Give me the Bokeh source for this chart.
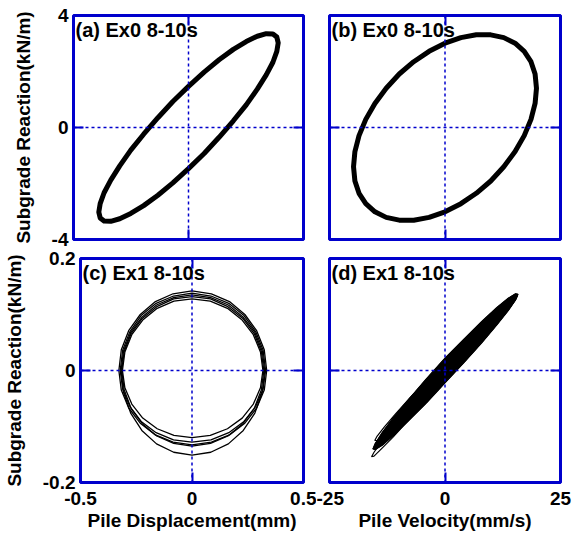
from bokeh.plotting import figure
from bokeh.layouts import column, row
from bokeh.models import Span, Label, LinearAxis, FixedTicker, Range1d
from bokeh.embed import file_html
from bokeh.resources import INLINE

FONT = "Liberation Sans"
BLUE = "#0000CC"

# ---- axes: ranges, ticks, tick labels ----
disp_range = (-0.5, 0.5)
vel_range = (-25, 25)
ex0_range = (-4, 4)
ex1_range = (-0.2, 0.2)
disp_ticks = [-0.5, 0, 0.5]
disp_tick_labels = ["-0.5", "0", "0.5"]
vel_ticks = [-25, 0, 25]
vel_tick_labels = ["-25", "0", "25"]
ex0_ticks = [-4, 0, 4]
ex0_tick_labels = ["-4", "0", "4"]
ex1_ticks = [-0.2, 0, 0.2]
ex1_tick_labels = ["-0.2", "0", "0.2"]

panel_titles = ["(a) Ex0 8-10s", "(b) Ex0 8-10s", "(c) Ex1 8-10s", "(d) Ex1 8-10s"]
y_title = "Subgrade Reaction(kN/m)"
x_titles = ["Pile Displacement(mm)", "Pile Velocity(mm/s)"]

# ---- Ex0: reaction vs displacement (mm, kN/m) ----
ex0_disp = [0, .068, .133, .195, .251, .299, .338, .367, .384, .390, .384, .367,
            .338, .299, .251, .195, .133, .068, 0, -.068, -.133, -.195, -.251, -.299,
            -.338, -.367, -.384, -.390, -.384, -.367, -.338, -.299, -.251, -.195,
            -.133, -.068, 0]
ex0_react_d = [1.47, 1.98, 2.42, 2.79, 3.07, 3.26, 3.35, 3.34, 3.23, 3.02, 2.72, 2.33,
               1.88, 1.37, 0.81, 0.24, -0.35, -0.93, -1.47, -1.98, -2.42, -2.79, -3.07,
               -3.26, -3.35, -3.34, -3.23, -3.02, -2.72, -2.33, -1.88, -1.37, -0.81,
               -0.24, 0.35, 0.93, 1.47]

# ---- Ex0: reaction vs velocity (mm/s, kN/m) ----
ex0_vel = [0, 3.44, 6.77, 9.90, 12.73, 15.17, 17.15, 18.61, 19.50, 19.80, 19.50, 18.61,
           17.15, 15.17, 12.73, 9.90, 6.77, 3.44, 0, -3.44, -6.77, -9.90, -12.73, -15.17,
           -17.15, -18.61, -19.50, -19.80, -19.50, -18.61, -17.15, -15.17, -12.73, -9.90,
           -6.77, -3.44, 0]
ex0_react_v = [3.01, 3.21, 3.31, 3.31, 3.21, 3.01, 2.72, 2.35, 1.91, 1.40, 0.86, 0.29,
               -0.29, -0.86, -1.40, -1.91, -2.35, -2.72, -3.01, -3.21, -3.31, -3.31, -3.21,
               -3.01, -2.72, -2.35, -1.91, -1.40, -0.86, -0.29, 0.29, 0.86, 1.40, 1.91,
               2.35, 2.72, 3.01]

# ---- Ex1: reaction vs displacement, one list per cycle ----
ex1_disp_cycles = [
    [.330, .319, .286, .233, .165, .085, 0, -.083, -.161, -.228, -.279, -.311, -.322,
     -.311, -.279, -.228, -.161, -.083, 0, .085, .165, .233, .286, .319, .330],
    [.322, .311, .279, .228, .161, .083, 0, -.082, -.158, -.223, -.273, -.304, -.315,
     -.304, -.273, -.223, -.158, -.082, 0, .083, .161, .228, .279, .311, .322],
    [.335, .324, .290, .237, .168, .087, 0, -.085, -.164, -.232, -.284, -.317, -.328,
     -.317, -.284, -.232, -.164, -.085, 0, .087, .168, .237, .290, .324, .335],
    [.326, .315, .282, .230, .163, .084, 0, -.082, -.159, -.225, -.275, -.307, -.318,
     -.307, -.275, -.225, -.159, -.082, 0, .084, .163, .230, .282, .315, .326],
    [.318, .307, .275, .225, .159, .082, 0, -.081, -.156, -.221, -.270, -.301, -.312,
     -.301, -.270, -.221, -.156, -.081, 0, .082, .159, .225, .275, .307, .318],
]
ex1_react_d_cycles = [
    [0, .036, .069, .098, .120, .133, .138, .133, .120, .098, .069, .036, 0,
     -.033, -.064, -.091, -.111, -.124, -.128, -.124, -.111, -.091, -.064, -.033, 0],
    [0, .034, .066, .093, .114, .128, .132, .128, .114, .093, .066, .034, 0,
     -.035, -.068, -.095, -.117, -.130, -.135, -.130, -.117, -.095, -.068, -.035, 0],
    [0, .037, .071, .100, .123, .137, .142, .137, .123, .100, .071, .037, 0,
     -.035, -.067, -.094, -.115, -.128, -.133, -.128, -.115, -.094, -.067, -.035, 0],
    [0, .035, .068, .095, .117, .130, .135, .130, .117, .095, .068, .035, 0,
     -.039, -.076, -.107, -.131, -.146, -.151, -.146, -.131, -.107, -.076, -.039, 0],
    [0, .033, .064, .090, .111, .124, .128, .124, .111, .090, .064, .033, 0,
     -.031, -.060, -.085, -.104, -.116, -.120, -.116, -.104, -.085, -.060, -.031, 0],
]

# ---- Ex1: reaction vs velocity, one list per cycle (first is the outer envelope) ----
ex1_vel_cycles = [
    [0, 4.09, 7.90, 11.17, 13.68, 15.26, 15.8, 15.26, 13.68, 11.17, 7.90, 4.09, 0,
     -4.04, -7.80, -11.03, -13.51, -15.07, -15.6, -15.07, -13.51, -11.03, -7.80, -4.04, 0],
    [0, 4.01, 7.75, 10.96, 13.42, 14.97, 15.5, 14.97, 13.42, 10.96, 7.75, 4.01, 0,
     -4.12, -7.95, -11.24, -13.77, -15.36, -15.9, -15.36, -13.77, -11.24, -7.95, -4.12, 0],
    [0, 4.07, 7.85, 11.10, 13.60, 15.17, 15.7, 15.17, 13.60, 11.10, 7.85, 4.07, 0,
     -3.94, -7.60, -10.75, -13.16, -14.68, -15.2, -14.68, -13.16, -10.75, -7.60, -3.94, 0],
]
ex1_react_v_cycles = [
    [.022, .056, .087, .112, .129, .137, .136, .126, .107, .081, .049, .014, -.022,
     -.058, -.089, -.115, -.133, -.141, -.140, -.130, -.110, -.083, -.051, -.015, .022],
    [.011, .045, .076, .101, .120, .130, .131, .124, .108, .085, .056, .023, -.013,
     -.053, -.089, -.119, -.140, -.153, -.154, -.146, -.127, -.100, -.066, -.027, .011],
    [.016, .051, .081, .106, .124, .134, .134, .125, .108, .083, .053, .019, -.015,
     -.047, -.076, -.099, -.116, -.125, -.125, -.117, -.101, -.078, -.049, -.018, .016],
]


def style_axis(ax, ticks, labels, show_labels, standoff):
    ax.ticker = FixedTicker(ticks=ticks)
    ax.major_label_overrides = {t: (lab if show_labels else "") for t, lab in zip(ticks, labels)}
    ax.major_tick_in = 10
    ax.major_tick_out = 0
    ax.major_tick_line_color = BLUE
    ax.major_tick_line_width = 2
    ax.minor_tick_line_color = None
    ax.axis_line_color = None
    ax.major_label_text_font = FONT
    ax.major_label_text_font_style = "bold"
    ax.major_label_text_color = "black"
    ax.major_label_text_font_size = "19px" if show_labels else "0px"
    ax.major_label_standoff = standoff if show_labels else 0
    ax.axis_label_text_font = FONT
    ax.axis_label_text_font_style = "bold"
    ax.axis_label_text_font_size = "19px"
    ax.axis_label_text_color = "black"


def make_panel(xr, yr, xt, xl, yt, yl, width, height, borders, title,
               show_x=False, show_y=False, xlabel=None, ylabel=None):
    left, right, top, bottom = borders
    p = figure(width=width, height=height,
               x_range=Range1d(*xr), y_range=Range1d(*yr),
               output_backend="svg", toolbar_location=None,
               min_border_left=left, min_border_right=right,
               min_border_top=top, min_border_bottom=bottom)
    p.xgrid.visible = False
    p.ygrid.visible = False
    p.background_fill_color = "white"
    p.border_fill_color = "white"
    p.outline_line_color = BLUE
    p.outline_line_width = 3
    p.outline_line_alpha = 1.0

    style_axis(p.xaxis[0], xt, xl, show_x, 9)
    style_axis(p.yaxis[0], yt, yl, show_y, 5)
    if xlabel:
        p.xaxis[0].axis_label = xlabel
        p.xaxis[0].axis_label_standoff = 2
    if ylabel:
        p.yaxis[0].axis_label = ylabel
        p.yaxis[0].axis_label_standoff = 15

    top_ax = LinearAxis()
    style_axis(top_ax, xt, xl, False, 0)
    p.add_layout(top_ax, "above")
    right_ax = LinearAxis()
    style_axis(right_ax, yt, yl, False, 0)
    p.add_layout(right_ax, "right")

    # dotted zero lines
    p.add_layout(Span(location=0, dimension="width", line_color=BLUE,
                      line_width=1.5, line_dash="3 3"))
    p.add_layout(Span(location=0, dimension="height", line_color=BLUE,
                      line_width=1.5, line_dash="3 3"))

    p.add_layout(Label(x=xr[0], y=yr[1], x_offset=2, y_offset=-3, text=title,
                       text_font=FONT, text_font_style="bold", text_font_size="20px",
                       text_align="left", text_baseline="top", text_color="black"))
    return p


LEFT_W, RIGHT_W = 316, 258
TOP_H, BOT_H = 249, 288

pa = make_panel(disp_range, ex0_range, disp_ticks, disp_tick_labels, ex0_ticks,
                ex0_tick_labels, LEFT_W, TOP_H, (73, 13, 15, 10), panel_titles[0],
                show_y=True, ylabel=y_title)
pa.line(ex0_disp, ex0_react_d, line_color="black", line_width=5, line_join="round")

pb = make_panel(vel_range, ex0_range, vel_ticks, vel_tick_labels, ex0_ticks,
                ex0_tick_labels, RIGHT_W, TOP_H, (13, 14, 15, 10), panel_titles[1])
pb.line(ex0_vel, ex0_react_v, line_color="black", line_width=5, line_join="round")

pc = make_panel(disp_range, ex1_range, disp_ticks, disp_tick_labels, ex1_ticks,
                ex1_tick_labels, LEFT_W, BOT_H, (73, 13, 9, 55), panel_titles[2],
                show_x=True, show_y=True, xlabel=x_titles[0], ylabel=y_title)
pc.multi_line(ex1_disp_cycles, ex1_react_d_cycles, line_color="black", line_width=1.3)

pd_ = make_panel(vel_range, ex1_range, vel_ticks, vel_tick_labels, ex1_ticks,
                 ex1_tick_labels, RIGHT_W, BOT_H, (13, 14, 9, 55), panel_titles[3],
                 show_x=True, xlabel=x_titles[1])
pd_.patch(ex1_vel_cycles[0], ex1_react_v_cycles[0], fill_color="black",
          line_color="black", line_width=1)
pd_.multi_line(ex1_vel_cycles, ex1_react_v_cycles, line_color="black", line_width=1.2)

layout = column(row(pa, pb), row(pc, pd_))

open("out.html", "w").write(file_html(layout, INLINE))
